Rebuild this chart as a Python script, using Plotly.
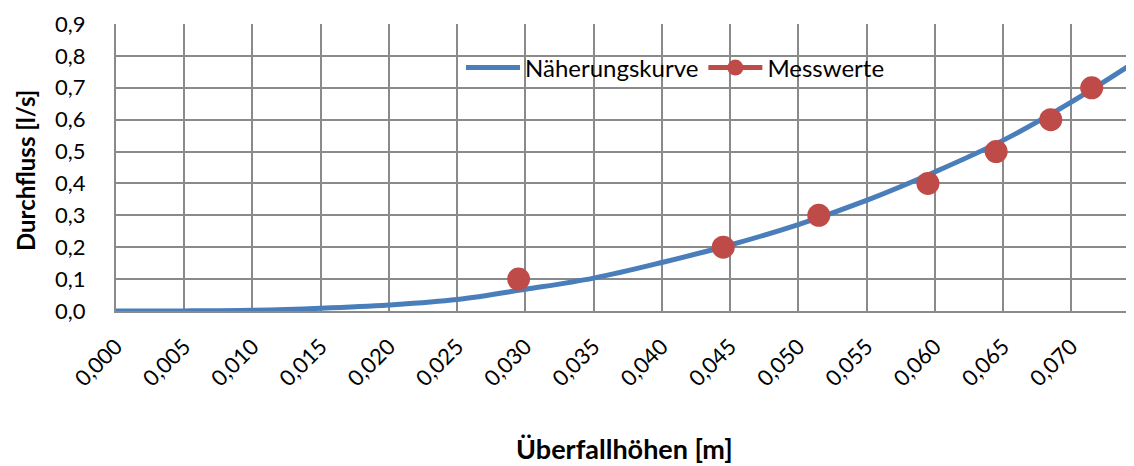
import plotly.graph_objects as go

# Näherungskurve
curve_h = [0.000, 0.005, 0.010, 0.015, 0.020, 0.025, 0.030, 0.035, 0.040,
           0.045, 0.050, 0.055, 0.060, 0.065, 0.070, 0.0746]
curve_q = [0.000, 0.0003, 0.0024, 0.0088, 0.019, 0.036, 0.068, 0.103, 0.152,
           0.207, 0.271, 0.347, 0.436, 0.535, 0.655, 0.779]

# Messwerte
mess_h = [0.0295, 0.0445, 0.0515, 0.0595, 0.0645, 0.0685, 0.0715]
mess_q = [0.1, 0.2, 0.3, 0.4, 0.5, 0.6, 0.7]

x_ticks = [0.000, 0.005, 0.010, 0.015, 0.020, 0.025, 0.030, 0.035,
           0.040, 0.045, 0.050, 0.055, 0.060, 0.065, 0.070]
y_ticks = [0.0, 0.1, 0.2, 0.3, 0.4, 0.5, 0.6, 0.7, 0.8, 0.9]

BLUE = "#4a7ebb"
RED = "#be4b48"
GRID = "#8a8a8a"
FONT = "Lato"

OFF = 8  # default page body margin
W, H = 1134 - OFF, 466 - OFF
ML, MR, MT, MB = 116 - OFF, 0, 24 - OFF, 466 - 311
PW, PH = W - ML - MR, H - MT - MB


def px(xs):  # screen x -> paper x
    return (xs - OFF - ML) / PW


def py(ys):  # screen y -> paper y
    return (MT + PH - (ys - OFF)) / PH


fig = go.Figure()
fig.add_trace(go.Scatter(x=curve_h, y=curve_q, mode="lines", name="Näherungskurve",
                         line=dict(color=BLUE, width=5, shape="spline")))
fig.add_trace(go.Scatter(x=mess_h, y=mess_q, mode="markers", name="Messwerte",
                         showlegend=False,
                         marker=dict(color=RED, size=23, line=dict(width=0))))
# legend entry for Messwerte (line + marker as in reference)
fig.add_trace(go.Scatter(x=[None], y=[None], mode="lines+markers", name="Messwerte",
                         line=dict(color=RED, width=5),
                         marker=dict(color=RED, size=17)))

fig.update_layout(
    width=W, height=H,
    margin=dict(l=ML, r=MR, t=MT, b=MB),
    paper_bgcolor="white", plot_bgcolor="white",
    separators=", ",
    font=dict(family=FONT, size=21, color="black"),
    legend=dict(orientation="h", x=px(461), xanchor="left",
                y=py(68), yanchor="middle",
                bgcolor="rgba(0,0,0,0)", font=dict(family=FONT, size=24),
                itemwidth=54, tracegroupgap=0),
    xaxis=dict(range=[0, 0.0746], tickvals=x_ticks, tickformat=".3f",
               tickangle=-45, showgrid=True, gridcolor=GRID, gridwidth=1.5,
               showline=True, linecolor=GRID, linewidth=2, zeroline=False,
               ticks="", tickfont=dict(size=22), ticklabelstandoff=12,
               automargin=False),
    yaxis=dict(range=[0, 0.9], tickvals=y_ticks, tickformat=".1f",
               showgrid=True, gridcolor=GRID, gridwidth=1.5,
               showline=True, linecolor=GRID, linewidth=2, zeroline=False,
               ticks="", tickfont=dict(size=22), ticklabelstandoff=24,
               automargin=False),
    annotations=[
        dict(text="<b>Durchfluss [l/s]</b>", xref="paper", yref="paper",
             x=px(25), y=py(171), xanchor="center", yanchor="middle",
             textangle=-90, showarrow=False, font=dict(family=FONT, size=24)),
        dict(text="<b>Überfallhöhen [m]</b>", xref="paper", yref="paper",
             x=px(624), y=py(448), xanchor="center", yanchor="middle",
             showarrow=False, font=dict(family=FONT, size=27)),
    ],
)

fig.write_html("out.html")
